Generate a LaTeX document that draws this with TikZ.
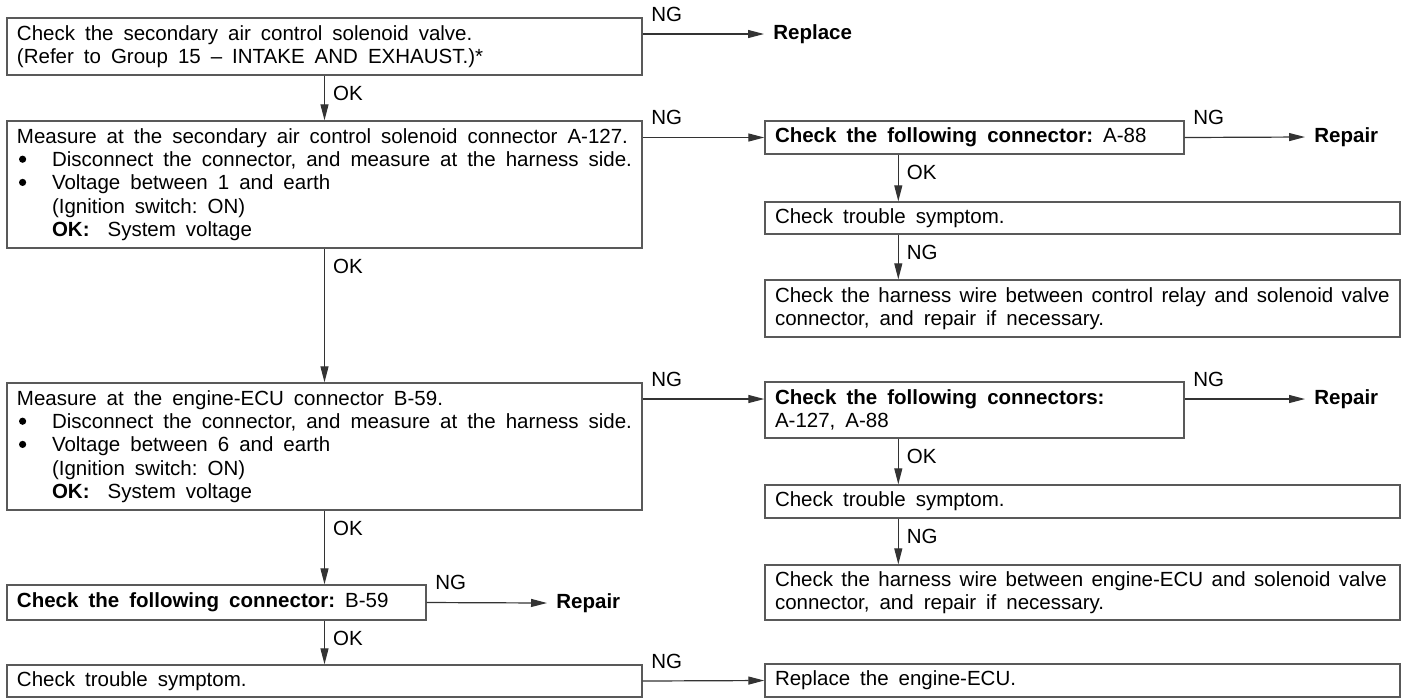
\documentclass[tikz,border=0pt]{standalone}
\usepackage{fontspec}
\setmainfont{Liberation Sans}
\frenchspacing
\usetikzlibrary{arrows.meta}
\newcommand{\dotitem}{\makebox[17.5pt][l]{\hspace{1pt}\tikz[baseline=-3.7pt]\fill (0,0) circle (1.8pt);}}
\newcommand{\indt}{\hspace*{17.5pt}}
\newcommand{\tightline}[1]{\mbox{\spaceskip=4.2pt\relax #1}}
\newcommand{\chartfont}{\fontsize{10.25pt}{11.6pt}\selectfont}
\tikzset{
  every node/.style={font=\chartfont},
  box/.style={draw=black!65, line width=0.7pt, align=left, inner xsep=5pt, inner ysep=0pt,
    execute at begin node={\spaceskip=5pt plus 1pt minus 1pt\relax}},
  widebox/.style={box, minimum width=317.5pt, text width=307.5pt},
  narrowbox/.style={box, minimum width=209.5pt, text width=199.5pt},
  arr/.style={draw=black!80, line width=0.6pt, -{Triangle[length=8pt, width=4pt]}},
  vtag/.style={inner sep=0pt, anchor=north west, xshift=4pt, yshift=-5pt},
  htag/.style={inner sep=0pt, anchor=south west, xshift=4pt, yshift=6pt},
  result/.style={font=\chartfont\bfseries, anchor=west, inner xsep=4.5pt}
}
\begin{document}
\begin{tikzpicture}[x=0.5pt, y=-0.5pt]
		\useasboundingbox (0,0) rectangle (1411,698);
		
		% Left column
		\node[widebox, minimum height=28.5pt] (chkvalve) at (324.5,46.5)
			{Check the secondary air control solenoid valve.\\(Refer to Group 15 – INTAKE AND EXHAUST.)*};
		\node[widebox, minimum height=63.5pt] (measA) at (324.5,184.5)
			{Measure at the secondary air control solenoid connector A-127.\\
			\dotitem Disconnect the connector, and measure at the harness side.\\
			\dotitem Voltage between 1 and earth\\
			\indt (Ignition switch: ON)\\
			\indt \textbf{OK:}\hspace{9pt}System voltage};
		\node[widebox, minimum height=63.5pt] (measB) at (324.5,446.5)
			{Measure at the engine-ECU connector B-59.\\
			\dotitem Disconnect the connector, and measure at the harness side.\\
			\dotitem Voltage between 6 and earth\\
			\indt (Ignition switch: ON)\\
			\indt \textbf{OK:}\hspace{9pt}System voltage};
		\node[narrowbox, minimum height=17.5pt] (conB) at (216.5,602.5)
			{\textbf{Check the following connector:} B-59};
		\node[widebox, minimum height=16pt] (symC) at (324.5,681) {Check trouble symptom.};
		
		% Right column
		\node[narrowbox, minimum height=16.5pt] (conA) at (974.5,137.5)
			{\textbf{Check the following connector:} A-88};
		\node[widebox, minimum height=16pt] (symA) at (1082.5,218) {Check trouble symptom.};
		\node[widebox, minimum height=28.5pt] (wireA) at (1082.5,308.5)
			{\tightline{Check the harness wire between control relay and solenoid valve}\\connector, and repair if necessary.};
		\node[narrowbox, minimum height=28pt] (conAB) at (974.5,410)
			{\textbf{Check the following connectors:}\\A-127, A-88};
		\node[widebox, minimum height=16.5pt] (symB) at (1082.5,501.5) {Check trouble symptom.};
		\node[widebox, minimum height=27.5pt] (wireB) at (1082.5,592.5)
			{\tightline{Check the harness wire between engine-ECU and solenoid valve}\\connector, and repair if necessary.};
		\node[widebox, minimum height=16.5pt] (replECU) at (1082.5,680.5) {Replace the engine-ECU.};
		
		% Results
		\node[result] (replace) at (764,34) {Replace};
		\node[result] (repairA) at (1305,137) {Repair};
		\node[result] (repairB) at (1305,399) {Repair};
		\node[result] (repairC) at (547,603) {Repair};
		
		% OK arrows
		\draw[arr] (chkvalve.south) -- (measA.north) node[vtag, pos=0] {OK};
		\draw[arr] (measA.south) -- (measB.north) node[vtag, pos=0] {OK};
		\draw[arr] (measB.south) -- (measB.south |- conB.north) node[vtag, pos=0] {OK};
		\draw[arr] (symC.north |- conB.south) -- (symC.north) node[vtag, pos=0] {OK};
		\draw[arr] ([xshift=67pt]conA.south west) -- ([xshift=67pt]symA.north west) node[vtag, pos=0] {OK};
		\draw[arr] ([xshift=67pt]symA.south west) -- ([xshift=67pt]wireA.north west) node[vtag, pos=0] {NG};
		\draw[arr] ([xshift=67pt]conAB.south west) -- ([xshift=67pt]symB.north west) node[vtag, pos=0] {OK};
		\draw[arr] ([xshift=67pt]symB.south west) -- ([xshift=67pt]wireB.north west) node[vtag, pos=0] {NG};
		
		% NG arrows
		\draw[arr] (chkvalve.east |- replace) -- (replace.west) node[htag, pos=0] {NG};
		\draw[arr] (measA.east |- conA) -- (conA.west) node[htag, pos=0] {NG};
		\draw[arr] (conA.east) -- (repairA.west) node[htag, pos=0] {NG};
		\draw[arr] (measB.east |- repairB) -- (conAB.west |- repairB) node[htag, pos=0] {NG};
		\draw[arr] (conAB.east |- repairB) -- (repairB.west) node[htag, pos=0] {NG};
		\draw[arr] (conB.east) -- (repairC.west) node[htag, pos=0] {NG};
		\draw[arr] (symC.east) -- (replECU.west) node[htag, pos=0] {NG};
	\end{tikzpicture}
\end{document}
